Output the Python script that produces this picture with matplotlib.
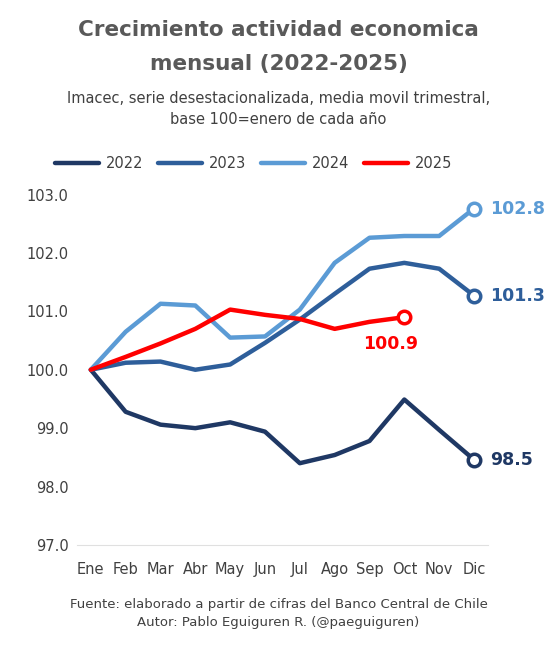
import matplotlib
matplotlib.use("Agg")
import matplotlib.pyplot as plt

months = ["Ene","Feb","Mar","Abr","May","Jun","Jul","Ago","Sep","Oct","Nov","Dic"]
s2022 = [100,99.28,99.06,99.0,99.1,98.94,98.4,98.54,98.78,99.49,98.97,98.46]
s2023 = [100,100.12,100.14,100.0,100.09,100.46,100.86,101.3,101.73,101.83,101.73,101.27]
s2024 = [100,100.65,101.13,101.1,100.55,100.57,101.03,101.83,102.26,102.29,102.29,102.76]
s2025 = [100,100.22,100.45,100.7,101.03,100.94,100.87,100.7,100.82,100.9]
labels = ["98.5","101.3","102.8","100.9"]

colors = {"2022":"#1f3864","2023":"#2e5e9a","2024":"#5b9bd5","2025":"#ff0000"}

fig = plt.figure(figsize=(5.57,6.55), dpi=100)
fig.patch.set_facecolor("white")
ax = fig.add_axes([0.138,0.168,0.738,0.535])
x = list(range(12))
series = [("2022",s2022),("2023",s2023),("2024",s2024),("2025",s2025)]
for (name, s), lab in zip(series, labels):
    xs = x[:len(s)]
    ax.plot(xs, s, color=colors[name], lw=3.2, label=name, solid_capstyle="round")
    ax.plot(xs[-1], s[-1], 'o', ms=9, mfc="white", mec=colors[name], mew=2.5)
for (name, s), lab in zip(series, labels):
    if name == "2025":
        ax.text(len(s)-1-0.4, s[-1]-0.55, lab, color=colors[name], fontsize=12.5, fontweight="bold", ha="center")
    else:
        ax.text(11.45, s[-1], lab, color=colors[name], fontsize=12.5, fontweight="bold", va="center")
ax.set_ylim(97,103)
ax.set_xlim(-0.4,11.4)
ax.set_yticks([97,98,99,100,101,102,103])
ax.set_yticklabels([f"{v:.1f}" for v in [97,98,99,100,101,102,103]])
ax.set_xticks(x)
ax.set_xticklabels(months)
ax.tick_params(length=0, labelsize=10.5, colors="#404040")
ax.tick_params(axis="x", pad=12)
ax.tick_params(axis="y", pad=6)
for sp in ax.spines.values():
    sp.set_visible(False)
ax.spines["bottom"].set_visible(True)
ax.spines["bottom"].set_color("#e0e0e0")
ax.legend(loc="lower center", bbox_to_anchor=(0.43,1.03), ncol=4, frameon=False,
          fontsize=10.5, handlelength=3, columnspacing=1.0, handletextpad=0.5, labelcolor="#404040")
fig.text(0.5,0.945,"Crecimiento actividad economica", ha="center", fontsize=15.5, fontweight="bold", color="#595959")
fig.text(0.5,0.893,"mensual (2022-2025)", ha="center", fontsize=15.5, fontweight="bold", color="#595959")
fig.text(0.5,0.842,"Imacec, serie desestacionalizada, media movil trimestral,", ha="center", fontsize=10.5, color="#404040")
fig.text(0.5,0.81,"base 100=enero de cada año", ha="center", fontsize=10.5, color="#404040")
fig.text(0.5,0.072,"Fuente: elaborado a partir de cifras del Banco Central de Chile", ha="center", fontsize=9.5, color="#404040")
fig.text(0.5,0.044,"Autor: Pablo Eguiguren R. (@paeguiguren)", ha="center", fontsize=9.5, color="#404040")
fig.savefig("out.png", dpi=100)
